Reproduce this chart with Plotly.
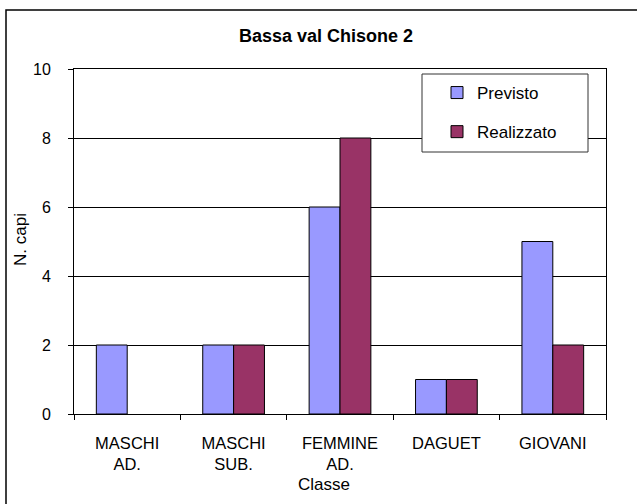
import plotly.graph_objects as go

categories = ["MASCHI<br>AD.", "MASCHI<br>SUB.", "FEMMINE<br>AD.", "DAGUET", "GIOVANI"]
previsto = [2, 2, 6, 1, 5]
realizzato = [None, 2, 8, 1, 2]
y_ticks = [0, 2, 4, 6, 8, 10]

FONT = "Liberation Sans, Arial, Helvetica, sans-serif"
W, H = 637, 504
L, R, T, B = 74, 606, 69, 414
pw, ph = R - L, B - T

def px_x(x):
    return (x - L) / pw

def px_y(y):
    return (B - y) / ph

fig = go.Figure()
fig.add_trace(go.Bar(x=categories, y=previsto, name="Previsto", legendgroup="a",
                     marker=dict(color="#9999FF", line=dict(color="#000000", width=1))))
fig.add_trace(go.Bar(x=categories, y=realizzato, name="Realizzato", legendgroup="b",
                     marker=dict(color="#993366", line=dict(color="#000000", width=1))))

fig.update_layout(
    width=W, height=H,
    margin=dict(l=L, r=W - R, t=T, b=H - B, pad=0),
    paper_bgcolor="white", plot_bgcolor="white",
    font=dict(family=FONT, size=15, color="#000000"),
    barmode="group", bargap=0.42, bargroupgap=0,
    showlegend=True,
    legend=dict(x=px_x(437), y=px_y(75), xanchor="left", yanchor="top",
                bgcolor="rgba(0,0,0,0)", borderwidth=0,
                font=dict(family=FONT, size=17), tracegroupgap=14,
                traceorder="grouped", itemwidth=30),
    xaxis=dict(showline=True, linecolor="#000000", linewidth=1, mirror=True,
               ticks="outside", ticklen=5, tickcolor="#000000", tickson="boundaries",
               showgrid=False, tickfont=dict(size=16.5), ticklabelstandoff=14),
    yaxis=dict(range=[0, 10], tickvals=y_ticks, showline=True, linecolor="#000000",
               linewidth=1, mirror=True, ticks="outside", ticklen=5, tickcolor="#000000",
               showgrid=True, gridcolor="#000000", gridwidth=1, zeroline=False,
               tickfont=dict(size=16), ticklabelstandoff=14),
    shapes=[
        dict(type="rect", xref="paper", yref="paper",
             x0=px_x(6), x1=px_x(646), y0=px_y(10), y1=px_y(520),
             line=dict(color="#000000", width=1.5), fillcolor="rgba(0,0,0,0)", layer="below"),
        dict(type="rect", xref="paper", yref="paper",
             x0=px_x(422), x1=px_x(588), y0=px_y(74), y1=px_y(152),
             line=dict(color="#333333", width=1), fillcolor="white", layer="above"),
    ],
    annotations=[
        dict(text="<b>Bassa val Chisone 2</b>", xref="paper", yref="paper",
             x=px_x(326), y=px_y(36), xanchor="center", yanchor="middle",
             showarrow=False, font=dict(family=FONT, size=18)),
        dict(text="N. capi", xref="paper", yref="paper", x=px_x(20), y=px_y(240),
             xanchor="center", yanchor="middle", textangle=-90, showarrow=False,
             font=dict(family=FONT, size=17)),
        dict(text="Classe", xref="paper", yref="paper", x=px_x(324), y=px_y(484),
             xanchor="center", yanchor="middle", showarrow=False,
             font=dict(family=FONT, size=17)),
    ],
)

fig.write_html("out.html", config={"displayModeBar": False},
               post_script="document.body.style.margin='0';document.body.style.overflow='hidden';")
